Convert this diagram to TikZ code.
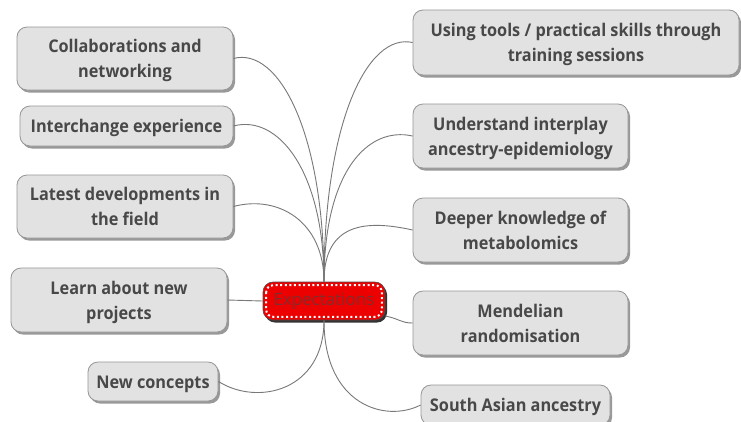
\documentclass[tikz,border=0pt]{standalone}
\usepackage{fontspec}
\setmainfont{Open Sans}
\newfontfamily\boxfont[FakeStretch=0.93]{Open Sans}
\newfontfamily\hubfont{Open Sans}
\usetikzlibrary{shadows}
\newcommand\mtxt[1]{\raisebox{-1.5pt}[\height][\depth]{\begin{tabular}{@{}c@{}}#1\end{tabular}}}
\definecolor{boxfill}{RGB}{226,226,226}
\definecolor{boxline}{RGB}{150,150,150}
\definecolor{txt}{RGB}{72,72,72}
\definecolor{wire}{RGB}{120,120,120}
\definecolor{ctr}{RGB}{236,0,0}
\definecolor{ctrtxt}{RGB}{130,45,45}
\begin{document}
\begin{tikzpicture}[x=1pt,y=-1pt,
  idea/.style={draw=boxline, line width=0.8pt, fill=boxfill, rounded corners=10pt,
    font=\boxfont\fontsize{17.5}{25}\selectfont\bfseries, text=txt,
    inner sep=0pt, drop shadow={shadow xshift=2pt, shadow yshift=-2.5pt, fill=black!40, opacity=1}},
  hub/.style={draw=black!70, line width=0.6pt, fill=ctr, rounded corners=10pt,
    font=\hubfont\fontsize{17}{20}\selectfont, text=ctrtxt, inner sep=0pt,
    minimum width=122pt, minimum height=38pt,
    drop shadow={shadow xshift=2pt, shadow yshift=-2.5pt, fill=black!80, opacity=1}},
  wirestyle/.style={draw=wire, line width=0.9pt}]
\useasboundingbox[fill=white] (0,0) rectangle (741,421);

\node[hub] (c) at (324,301) {Expectations};
\draw[white, line width=2pt, dash pattern=on 2pt off 2.6pt, rounded corners=7pt]
  ([shift={(3.5pt,-3.5pt)}]c.north west) rectangle ([shift={(-3.5pt,3.5pt)}]c.south east);

\node[idea, minimum width=216pt, minimum height=63pt] (collab) at (125,58.5) {\mtxt{Collaborations and\\networking}};
\node[idea, minimum width=213pt, minimum height=40pt] (inter) at (126.5,126) {\mtxt{Interchange experience}};
\node[idea, minimum width=216pt, minimum height=63pt] (latest) at (125,206.5) {\mtxt{Latest developments in\\the field}};
\node[idea, minimum width=216pt, minimum height=64pt] (learn) at (119,300) {\mtxt{Learn about new\\projects}};
\node[idea, minimum width=130pt, minimum height=39pt] (newc) at (153,381.5) {\mtxt{New concepts}};

\node[idea, minimum width=326pt, minimum height=65pt] (using) at (576,42.5) {\mtxt{Using tools / practical skills through\\training sessions}};
\node[idea, minimum width=215pt, minimum height=64pt] (under) at (520.5,136) {\mtxt{Understand interplay\\ancestry-epidemiology}};
\node[idea, minimum width=215pt, minimum height=64pt] (deeper) at (520.5,230) {\mtxt{Deeper knowledge of\\metabolomics}};
\node[idea, minimum width=215pt, minimum height=64pt] (mendel) at (520.5,323) {\mtxt{Mendelian\\randomisation}};
\node[idea, minimum width=189pt, minimum height=40pt] (south) at (515.5,405) {\mtxt{South Asian ancestry}};

\draw[wirestyle] (c.north) .. controls +(0,-150) and +(45,-12) .. (collab.east);
\draw[wirestyle] (c.north) .. controls +(0,-110) and +(45,-12) .. (inter.east);
\draw[wirestyle] (c.north) .. controls +(0,-60) and +(45,-12) .. (latest.east);
\draw[wirestyle] (learn.east) -- (c.west);
\draw[wirestyle] (c.south) .. controls +(0,70) and +(40,25) .. (newc.east);

\draw[wirestyle] (c.north) .. controls +(0,-160) and +(-45,-10) .. (using.west);
\draw[wirestyle] (c.north) .. controls +(0,-110) and +(-45,-10) .. (under.west);
\draw[wirestyle] (c.north) .. controls +(0,-60) and +(-45,-10) .. (deeper.west);
\draw[wirestyle] ([yshift=-15pt]c.east) .. controls +(15,3) and +(-12,0) .. (mendel.west);
\draw[wirestyle] (c.south) .. controls +(0,85) and +(-35,18) .. (south.west);
\end{tikzpicture}
\end{document}
